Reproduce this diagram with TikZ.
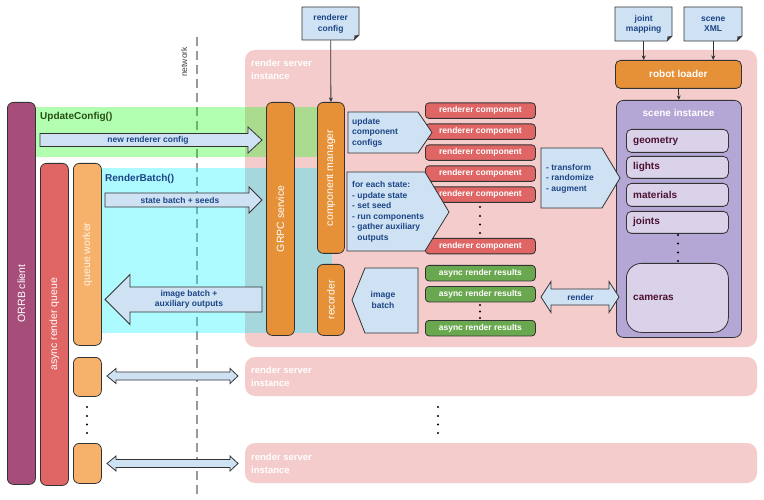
\documentclass[tikz,border=0pt]{standalone}
\usepackage{fontspec}
\setmainfont{Liberation Sans}
\usetikzlibrary{arrows.meta}
\definecolor{cPurple}{RGB}{166,77,121}
\definecolor{cRed}{RGB}{224,102,102}
\definecolor{cLOrange}{RGB}{246,178,107}
\definecolor{cOrange}{RGB}{230,145,56}
\definecolor{cGreen}{RGB}{106,168,79}
\definecolor{cLav}{RGB}{180,167,214}
\definecolor{cLavL}{RGB}{217,210,233}
\definecolor{cBlue}{RGB}{207,226,243}
\definecolor{cPink}{RGB}{244,204,204}
\definecolor{cCyanB}{RGB}{0,240,255}
\definecolor{cGreenB}{RGB}{0,255,0}
\definecolor{tBlue}{RGB}{28,69,135}
\definecolor{tGreen}{RGB}{39,78,19}
\definecolor{tMaroon}{RGB}{76,17,48}
\definecolor{tLight}{RGB}{255,244,232}
\newcommand{\ftA}{\fontsize{8.5}{10.5}\selectfont\bfseries}
\newcommand{\ftB}{\fontsize{10}{12}\selectfont\bfseries}
\newcommand{\ftR}{\fontsize{10.5}{12}\selectfont}
\newcommand{\ftI}{\fontsize{9.5}{12.5}\selectfont\bfseries}
\newcommand{\drbox}[7]{\node[#2, anchor=north west, minimum width={(#5)-(#3)}, minimum height={(#6)-(#4)}] (#1) at (#3,#4) {#7};}
\newcommand{\docnode}[6]{%
  \draw[bd, fill=cBlue] (#2,#3) -- (#4,#3) -- (#4,#5-5) -- (#4-5,#5) -- (#2,#5) -- cycle;
  \fill[black!75] (#4,#5-5) -- (#4-5,#5) -- (#4-4.5,#5-4.5) -- cycle;
  \node[inner sep=0pt, anchor=north west, minimum width={(#4)-(#2)}, minimum height={(#5)-(#3)}, align=center, font=\ftA, text=tBlue] (#1) at (#2,#3) {#6};}
% right arrow: tail, headbase, tip, y, shaft half, head half
\newcommand{\blockarrow}[6]{%
  \draw[barrow] (#1,#4-#5) -- (#2,#4-#5) -- (#2,#4-#6) -- (#3,#4) -- (#2,#4+#6) -- (#2,#4+#5) -- (#1,#4+#5) -- cycle;}
% double arrow: ltip, lbase, rbase, rtip, y, shaft half, head half
\newcommand{\dblarrow}[7]{%
  \draw[barrow] (#1,#5) -- (#2,#5-#7) -- (#2,#5-#6) -- (#3,#5-#6) -- (#3,#5-#7) -- (#4,#5) -- (#3,#5+#7) -- (#3,#5+#6) -- (#2,#5+#6) -- (#2,#5+#7) -- cycle;}
\begin{document}
\begin{tikzpicture}[x=1pt,y=-1pt,
  bd/.style={draw=black!80, line width=0.8pt},
  bar/.style={bd, rounded corners=6pt, inner sep=0pt},
  sbox/.style={bd, rounded corners=3.5pt, inner sep=0pt},
  barrow/.style={bd, fill=cBlue, line join=miter},
  vtext/.style={rotate=90, text=white, font=\ftR, inner sep=0pt},
  conn/.style={draw=black!80, line width=0.8pt, -{Stealth[length=4.5pt,width=4pt]}},
  inst/.style={fill=cPink, rounded corners=10pt},
  inslbl/.style={text=white, font=\ftI, align=left, inner sep=0pt, anchor=north west},
  atext/.style={text=tBlue, font=\ftA, inner sep=0pt},
  itxt/.style={text=tMaroon, font=\ftB, inner sep=0pt, anchor=west},
  dot/.style={fill=black},
]
\useasboundingbox (0,0) rectangle (764,500);
\fill[white] (0,0) rectangle (764,500);

% render server instances
\fill[inst] (245,50) rectangle (757,347);
\fill[inst] (245,357) rectangle (757,396);
\fill[inst] (245,443) rectangle (757,483);
\node[inslbl] (l1) at (251,59.5) {render server\\instance};
\node[inslbl] (l2) at (251,366.5) {render server\\instance};
\node[inslbl] (l3) at (251,453.5) {render server\\instance};

% network line
\draw[black!40, line width=2pt, dash pattern=on 9pt off 5pt] (197,37) -- (197,495);
\node[rotate=90, font=\fontsize{8.5}{10}\selectfont, text=black!75, inner sep=0pt] (net) at (184,62) {network};

% bands
\fill[cGreenB, fill opacity=0.3] (35,107) rectangle (317,157);
\fill[cCyanB, fill opacity=0.32] (100,168) rectangle (332,333);
\node[text=tGreen, font=\ftB, anchor=west, inner sep=0pt] (uc) at (40,117) {UpdateConfig()};
\node[text=tBlue, font=\ftB, anchor=west, inner sep=0pt] (rb) at (105,179) {RenderBatch()};

% client side bars
\drbox{orrb}{bar, fill=cPurple}{7}{102}{35}{484}{}
\node[vtext] at (orrb.center) {ORRB client};
\drbox{arq}{bar, fill=cRed}{40}{163}{68}{485}{}
\node[vtext] at (arq.center) {async render queue};
\drbox{qw}{bar, fill=cLOrange}{73}{163}{101}{345}{}
\node[vtext, text=tLight] at (qw.center) {queue worker};
\drbox{qw2}{bar, fill=cLOrange}{73}{357}{101}{396}{}
\drbox{qw3}{bar, fill=cLOrange}{73}{443}{101}{483}{}
\foreach \yy in {407,416,424.5,433} {\fill[dot] (87,\yy) circle[radius=1.1pt];}
\foreach \yy in {407,416,424.5,433} {\fill[dot] (438,\yy) circle[radius=1.1pt];}

% server bars
\drbox{grpc}{bar, fill=cOrange}{266}{102}{294}{335}{}
\node[vtext] at (grpc.center) {GRPC service};
\drbox{cm}{bar, fill=cOrange}{317}{102}{344}{253}{}
\node[vtext] at (cm.center) {component manager};
\drbox{rec}{bar, fill=cOrange}{317}{264}{344}{335}{}
\node[vtext] at (rec.center) {recorder};

% documents
\docnode{rcfg}{302}{7}{359}{40}{renderer\\config}
\docnode{jm}{615}{7}{672}{41}{joint\\mapping}
\docnode{sx}{684}{7}{742}{41}{scene\\XML}

% robot loader and scene instance
\drbox{rl}{sbox, rounded corners=5pt, fill=cOrange, text=white, font=\ftB}{615}{60}{741}{88}{robot loader}
\drbox{si}{sbox, rounded corners=7pt, fill=cLav}{616}{100}{741}{337}{}
\node[text=white, font=\ftB, inner sep=0pt] (silbl) at (678.5,113) {scene instance};
\drbox{geo}{sbox, rounded corners=5pt, fill=cLavL}{626}{129}{728}{152}{}
\node[itxt] at ([xshift=7pt]geo.west) {geometry};
\drbox{lig}{sbox, rounded corners=5pt, fill=cLavL}{626}{156}{728}{178}{}
\node[itxt] at ([xshift=7pt]lig.west) {lights};
\drbox{mat}{sbox, rounded corners=5pt, fill=cLavL}{626}{183}{728}{206}{}
\node[itxt] at ([xshift=7pt]mat.west) {materials};
\drbox{joi}{sbox, rounded corners=5pt, fill=cLavL}{626}{211}{728}{233}{}
\node[itxt] at ([xshift=7pt]joi.west) {joints};
\foreach \yy in {235,243.5,252.5,261} {\fill[dot] (678,\yy) circle[radius=1.1pt];}
\drbox{cam}{sbox, rounded corners=15pt, fill=cLavL}{626}{263}{728}{332}{}
\node[itxt] at ([xshift=7pt]cam.west) {cameras};

% connectors
\draw[conn] (rcfg.south) -- (cm.north);
\draw[conn] (jm.south) -- (jm.south |- rl.north);
\draw[conn] (sx.south) -- (sx.south |- rl.north);
\draw[conn] (rl.south) -- (si.north);

% renderer components
\foreach \i/\yy in {1/102.5,2/123.5,3/144.5,4/165.5,5/186.5,6/238} {
  \drbox{rc\i}{sbox, fill=cRed, text=white, font=\ftA}{425}{\yy}{535}{\yy+15.5}{renderer component}
}
\foreach \yy in {207,216,224.5,233} {\fill[dot] (480,\yy) circle[radius=1.1pt];}

% async render results
\foreach \i/\yy in {1/265,2/286,3/320} {
  \drbox{ar\i}{sbox, fill=cGreen, text=white, font=\ftA}{425}{\yy}{535}{\yy+15.5}{async render results}
}
\foreach \yy in {305,311.5,318} {\fill[dot] (480,\yy) circle[radius=1.1pt];}

% pentagon callouts (drawn over the component boxes)
\draw[barrow] (348,112) -- (418,112) -- (432,132.5) -- (418,153) -- (348,153) -- cycle;
\node[atext, anchor=west, align=left] (ucc) at (352,132.5) {update\\component\\configs};
\draw[barrow] (347,172) -- (425,172) -- (449,212) -- (425,251) -- (347,251) -- cycle;
\node[atext, anchor=west, align=left] (fes) at (352,212) {for each state:\\- update state\\- set seed\\- run components\\- gather auxiliary\\\hphantom{- }outputs};
\draw[barrow] (541,148) -- (602,148) -- (620,178) -- (602,208) -- (541,208) -- cycle;
\node[atext, anchor=west, align=left] (tra) at (546,178.5) {- transform\\- randomize\\- augment};
\draw[barrow] (352,300) -- (365,268) -- (418,268) -- (418,333) -- (365,333) -- cycle;
\node[atext, align=center] (ib) at (383,300) {image\\batch};

% block arrows
\blockarrow{40}{248}{262}{140}{6.5}{13}
\node[atext] (nrc) at (148,140) {new renderer config};
\blockarrow{105}{249}{262}{200}{7}{13}
\node[atext] (sbs) at (180,200.5) {state batch + seeds};
\blockarrow{262}{130}{105}{299.5}{12.5}{25}
\node[atext, align=center] (iba) at (189,299.5) {image batch +\\auxiliary outputs};
\dblarrow{107}{116}{230}{238}{376}{4}{7.5}
\dblarrow{107}{116}{230}{238}{463.5}{4}{7.5}
\dblarrow{541}{551}{609}{619}{297}{8}{15.5}
\node[atext] (rnd) at (580.5,297) {render};
\end{tikzpicture}
\end{document}
